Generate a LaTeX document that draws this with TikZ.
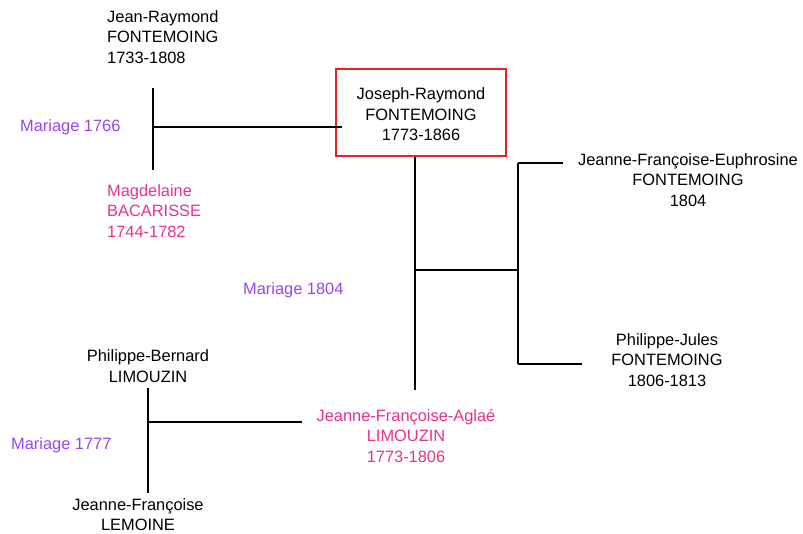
\documentclass[tikz,border=0pt]{standalone}
\usepackage{fontspec}
\setmainfont{Liberation Sans}
\usetikzlibrary{positioning}
\definecolor{mariage}{RGB}{150,70,240}
\definecolor{epouse}{RGB}{232,50,140}
\definecolor{cadre}{RGB}{232,35,31}
\tikzset{
    person/.style={inner sep=0pt, align=center, font=\fontsize{16.4}{20.5}\selectfont},
    wife/.style={person, text=epouse},
    mariage/.style={person, text=mariage},
    lien/.style={line width=2.8pt},
}
\begin{document}
\begin{tikzpicture}[x=1pt,y=-1pt]
            \useasboundingbox (0,0) rectangle (803,533);

            \node[person,align=left,anchor=west] (jr) at (107,37) { Jean-Raymond\\FONTEMOING\\1733-1808 };
            \node[wife,align=left,anchor=west] (mb) at (107,211) { Magdelaine\\BACARISSE\\1744-1782 };
            \node[mariage,anchor=west] (m1766) at (20,127) { Mariage 1766 };
            \node[person,draw=cadre,line width=1.6pt,minimum width=170pt,minimum height=87pt] (jos) at (421,112.5) { \rule{0pt}{16pt}Joseph-Raymond\\FONTEMOING\\1773-1866 };
            \node[mariage,anchor=west] (m1804) at (243,290) { Mariage 1804 };
            \node[person] (jfe) at (688,180) { Jeanne-Françoise-Euphrosine\\FONTEMOING\\1804 };
            \node[person] (pj) at (667,360) { Philippe-Jules\\FONTEMOING\\1806-1813 };
            \node[wife] (jfa) at (406,436) { Jeanne-Françoise-Aglaé\\LIMOUZIN\\1773-1806 };
            \node[person] (pb) at (148,366) { Philippe-Bernard\\LIMOUZIN };
            \node[mariage,anchor=west] (m1777) at (11,445) { Mariage 1777 };
            \node[person] (jfl) at (138,514.5) { Jeanne-Françoise\\LEMOINE };

            \coordinate (c1766) at (153,127);
            \coordinate (c1804) at (415,270);
            \coordinate (c1804b) at (415,390);
            \coordinate (frat) at (518,270);
            \coordinate (frattop) at (518,163);
            \coordinate (fratbot) at (518,364);
            \coordinate (c1777) at (148,422);

            \draw[lien,line width=2.4pt] (153,88) -- (153,170);
            \draw[line width=2pt] (c1766) -- ([xshift=7pt]jos.west |- c1766);
            \draw[lien] (jos.south -| c1804) -- (c1804b);
            \draw[line width=2pt] (c1804) -- (frat);
            \draw[lien] (frattop) -- (fratbot);
            \draw[lien] (frattop) -- (563,163);
            \draw[lien] (fratbot) -- (582,364);
            \draw[lien,line width=2.4pt] (148,388) -- (148,493);
            \draw[lien] (c1777) -- (302,422);

        \end{tikzpicture}
\end{document}
